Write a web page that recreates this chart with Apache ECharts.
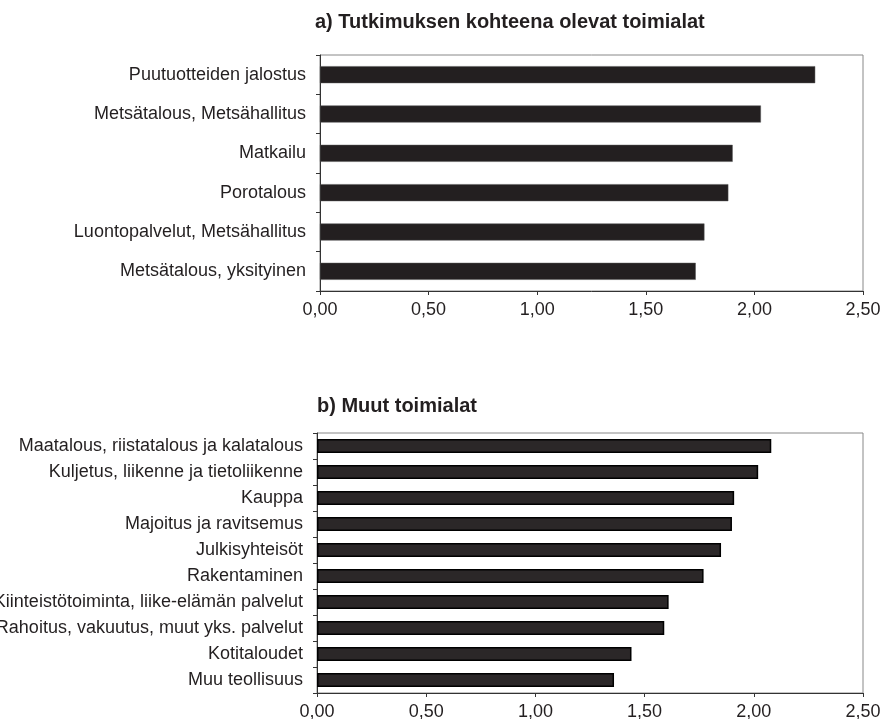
<!DOCTYPE html>
<html>
<head>
<meta charset="utf-8">
<script src="https://cdn.jsdelivr.net/npm/echarts@6/dist/echarts.min.js"></script>
<style>
  html, body { margin: 0; padding: 0; background: #fff; }
  #main { width: 889px; height: 719px; }
</style>
</head>
<body>
<div id="main"></div>
<script>
// a) Tutkimuksen kohteena olevat toimialat
const categoriesA = ['Puutuotteiden jalostus', 'Metsätalous, Metsähallitus', 'Matkailu', 'Porotalous', 'Luontopalvelut, Metsähallitus', 'Metsätalous, yksityinen'];
const valuesA = [2.28, 2.03, 1.90, 1.88, 1.77, 1.73];

// b) Muut toimialat
const categoriesB = ['Maatalous, riistatalous ja kalatalous', 'Kuljetus, liikenne ja tietoliikenne', 'Kauppa', 'Majoitus ja ravitsemus', 'Julkisyhteisöt', 'Rakentaminen', 'Kiinteistötoiminta, liike-elämän palvelut', 'Rahoitus, vakuutus, muut yks. palvelut', 'Kotitaloudet', 'Muu teollisuus'];
const valuesB = [2.08, 2.02, 1.91, 1.90, 1.85, 1.77, 1.61, 1.59, 1.44, 1.36];

const xTicks = [0, 0.5, 1, 1.5, 2, 2.5];

const FONT = '"Liberation Sans", Arial, sans-serif';
const TEXT = '#231f20';

const chart = echarts.init(document.getElementById('main'));

const valueAxis = (gridIndex) => ({
    type: 'value',
    gridIndex: gridIndex,
    min: xTicks[0],
    max: xTicks[xTicks.length - 1],
    interval: 0.5,
    splitLine: { show: false },
    axisLine: { show: true, lineStyle: { color: '#333', width: 1 } },
    axisTick: { show: true, length: 4, lineStyle: { color: '#333' } },
    axisLabel: {
        margin: 10,
        fontFamily: FONT,
        fontSize: 18,
        color: TEXT,
        formatter: (v) => v.toFixed(2).replace('.', ',')
    }
});

const catAxis = (gridIndex, data) => ({
    type: 'category',
    gridIndex: gridIndex,
    data: data,
    inverse: true,
    axisLine: { show: true, lineStyle: { color: '#333', width: 1 } },
    axisTick: { show: true, length: 4, lineStyle: { color: '#333' } },
    axisLabel: {
        margin: 14,
        fontFamily: FONT,
        fontSize: 18,
        color: TEXT
    }
});

chart.setOption({
    animation: false,
    title: [
        {
            text: 'a) Tutkimuksen kohteena olevat toimialat',
            left: 310, top: 7,
            textStyle: { fontFamily: FONT, fontSize: 20, fontWeight: 'bold', color: TEXT }
        },
        {
            text: 'b) Muut toimialat',
            left: 312, top: 391,
            textStyle: { fontFamily: FONT, fontSize: 20, fontWeight: 'bold', color: TEXT }
        }
    ],
    grid: [
        { left: 320, right: 26, top: 55, height: 236, containLabel: false, outerBoundsMode: 'none', show: true, borderColor: '#888', borderWidth: 1 },
        { left: 317, right: 26, top: 433, height: 260, containLabel: false, outerBoundsMode: 'none', show: true, borderColor: '#888', borderWidth: 1 }
    ],
    xAxis: [valueAxis(0), valueAxis(1)],
    yAxis: [catAxis(0, categoriesA), catAxis(1, categoriesB)],
    series: [
        {
            type: 'bar',
            xAxisIndex: 0,
            yAxisIndex: 0,
            data: valuesA,
            barWidth: 17,
            itemStyle: { color: '#231f20', borderColor: '#555', borderWidth: 0.5 }
        },
        {
            type: 'bar',
            xAxisIndex: 1,
            yAxisIndex: 1,
            data: valuesB,
            barWidth: 14,
            itemStyle: { color: '#2b2728', borderColor: '#000', borderWidth: 1.5 }
        }
    ]
});
</script>
</body>
</html>
